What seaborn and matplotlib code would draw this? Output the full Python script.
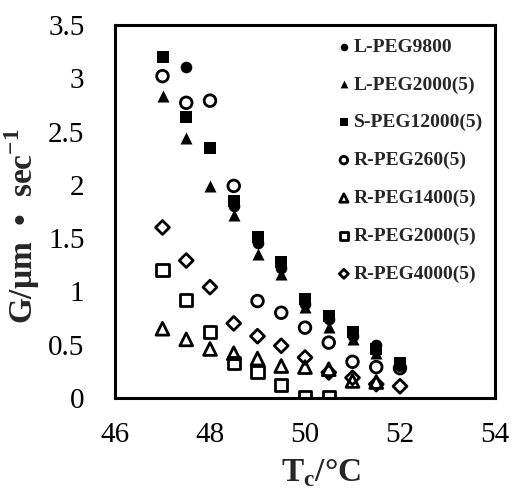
import numpy as np
import pandas as pd
import seaborn as sns
import matplotlib
matplotlib.use("Agg")
import matplotlib.pyplot as plt

# ---- data ----
x_lpeg9800 = [47.5, 48.5, 49.0, 49.5, 50.0, 50.5, 51.0, 51.5, 52.0]
y_lpeg9800 = [3.11, 1.80, 1.45, 1.22, 0.88, 0.74, 0.58, 0.50, 0.30]

x_lpeg2000 = [47.0, 47.5, 48.0, 48.5, 49.0, 49.5, 50.0, 50.5, 51.0, 51.5]
y_lpeg2000 = [2.83, 2.44, 1.99, 1.72, 1.35, 1.16, 0.85, 0.67, 0.55, 0.42]

x_speg12000 = [47.0, 47.5, 48.0, 48.5, 49.0, 49.5, 50.0, 50.5, 51.0, 51.5, 52.0]
y_speg12000 = [3.20, 2.64, 2.35, 1.85, 1.51, 1.28, 0.93, 0.77, 0.62, 0.46, 0.33]

x_rpeg260 = [47.0, 47.5, 48.0, 48.5, 49.0, 49.5, 50.0, 50.5, 51.0, 51.5, 52.0]
y_rpeg260 = [3.02, 2.77, 2.79, 1.99, 0.91, 0.80, 0.66, 0.52, 0.34, 0.29, 0.28]

x_rpeg1400 = [47.0, 47.5, 48.0, 48.5, 49.0, 49.5, 50.0, 50.5, 51.0, 51.5]
y_rpeg1400 = [0.65, 0.55, 0.46, 0.42, 0.37, 0.30, 0.29, 0.27, 0.16, 0.15]

x_rpeg2000 = [47.0, 47.5, 48.0, 48.5, 49.0, 49.5, 50.0, 50.5]
y_rpeg2000 = [1.20, 0.92, 0.62, 0.33, 0.24, 0.12, 0.01, 0.01]

x_rpeg4000 = [47.0, 47.5, 48.0, 48.5, 49.0, 49.5, 50.0, 50.5, 51.0, 51.5, 52.0]
y_rpeg4000 = [1.60, 1.29, 1.04, 0.70, 0.58, 0.49, 0.38, 0.24, 0.19, 0.13, 0.11]

labels = ["L-PEG9800", "L-PEG2000(5)", "S-PEG12000(5)", "R-PEG260(5)",
          "R-PEG1400(5)", "R-PEG2000(5)", "R-PEG4000(5)"]
xs = [x_lpeg9800, x_lpeg2000, x_speg12000, x_rpeg260, x_rpeg1400, x_rpeg2000, x_rpeg4000]
ys = [y_lpeg9800, y_lpeg2000, y_speg12000, y_rpeg260, y_rpeg1400, y_rpeg2000, y_rpeg4000]

x_ticks = [46, 48, 50, 52, 54]
y_ticks = [0, 0.5, 1, 1.5, 2, 2.5, 3, 3.5]
y_ticklabels = ["0", "0.5", "1", "1.5", "2", "2.5", "3", "3.5"]

# ---- styles ----
styles = [
    dict(marker="o", s=70, facecolor="black", edgecolor="black", linewidth=0),
    dict(marker="^", s=75, facecolor="black", edgecolor="black", linewidth=0),
    dict(marker="s", s=70, facecolor="black", edgecolor="black", linewidth=0),
    dict(marker="o", s=70, facecolor="none", edgecolor="black", linewidth=2.0),
    dict(marker="^", s=85, facecolor="none", edgecolor="black", linewidth=2.0),
    dict(marker="s", s=75, facecolor="none", edgecolor="black", linewidth=2.0),
    dict(marker="D", s=50, facecolor="none", edgecolor="black", linewidth=2.0),
]

sns.set_style("white")
plt.rcParams["font.family"] = ["Liberation Serif", "DejaVu Serif"]
plt.rcParams["mathtext.fontset"] = "custom"
plt.rcParams["mathtext.rm"] = "Liberation Serif"
plt.rcParams["mathtext.bf"] = "Liberation Serif:bold"

fig = plt.figure(figsize=(5.12, 4.90), dpi=100)
ax = fig.add_axes([115 / 512, 1 - 398 / 490, 380 / 512, 373 / 490])

for lab, xv, yv, st in zip(labels, xs, ys, styles):
    df = pd.DataFrame({"x": xv, "y": yv})
    sns.scatterplot(data=df, x="x", y="y", ax=ax, label=lab, **st)

ax.set_xlim(46, 54)
ax.set_ylim(0, 3.5)
ax.set_xticks(x_ticks)
ax.set_yticks(y_ticks)
ax.set_yticklabels(y_ticklabels)
ax.tick_params(axis="both", direction="in", length=6, width=1.5, labelsize=21,
               colors="black")
ax.tick_params(axis="y", pad=22)
ax.tick_params(axis="x", pad=17)

for sp in ax.spines.values():
    sp.set_visible(True)
    sp.set_color("black")
    sp.set_linewidth(2.2)

ax.set_xlabel(r"T$_\mathbf{c}$/°C", fontsize=24, fontweight="bold")
ax.xaxis.set_label_coords(321 / 512, 1 / 490, transform=fig.transFigure)
ax.xaxis.label.set_va("bottom")

ax.set_ylabel("G/μm  •  sec$^{\\mathbf{-1}}$", fontsize=24, fontweight="bold")
ax.yaxis.set_label_coords(22 / 512, 1 - 226 / 490, transform=fig.transFigure)
ax.yaxis.label.set_va("center")

leg = ax.legend(loc="upper left", bbox_to_anchor=(339 / 512, 1 - 38 / 490),
                bbox_transform=fig.transFigure, frameon=False,
                prop={"family": "Liberation Serif", "weight": "bold", "size": 14},
                markerscale=0.65, handlelength=0.5, handletextpad=0.25,
                labelspacing=1.04, borderpad=0, borderaxespad=0)

fig.savefig("out.png", dpi=100)
